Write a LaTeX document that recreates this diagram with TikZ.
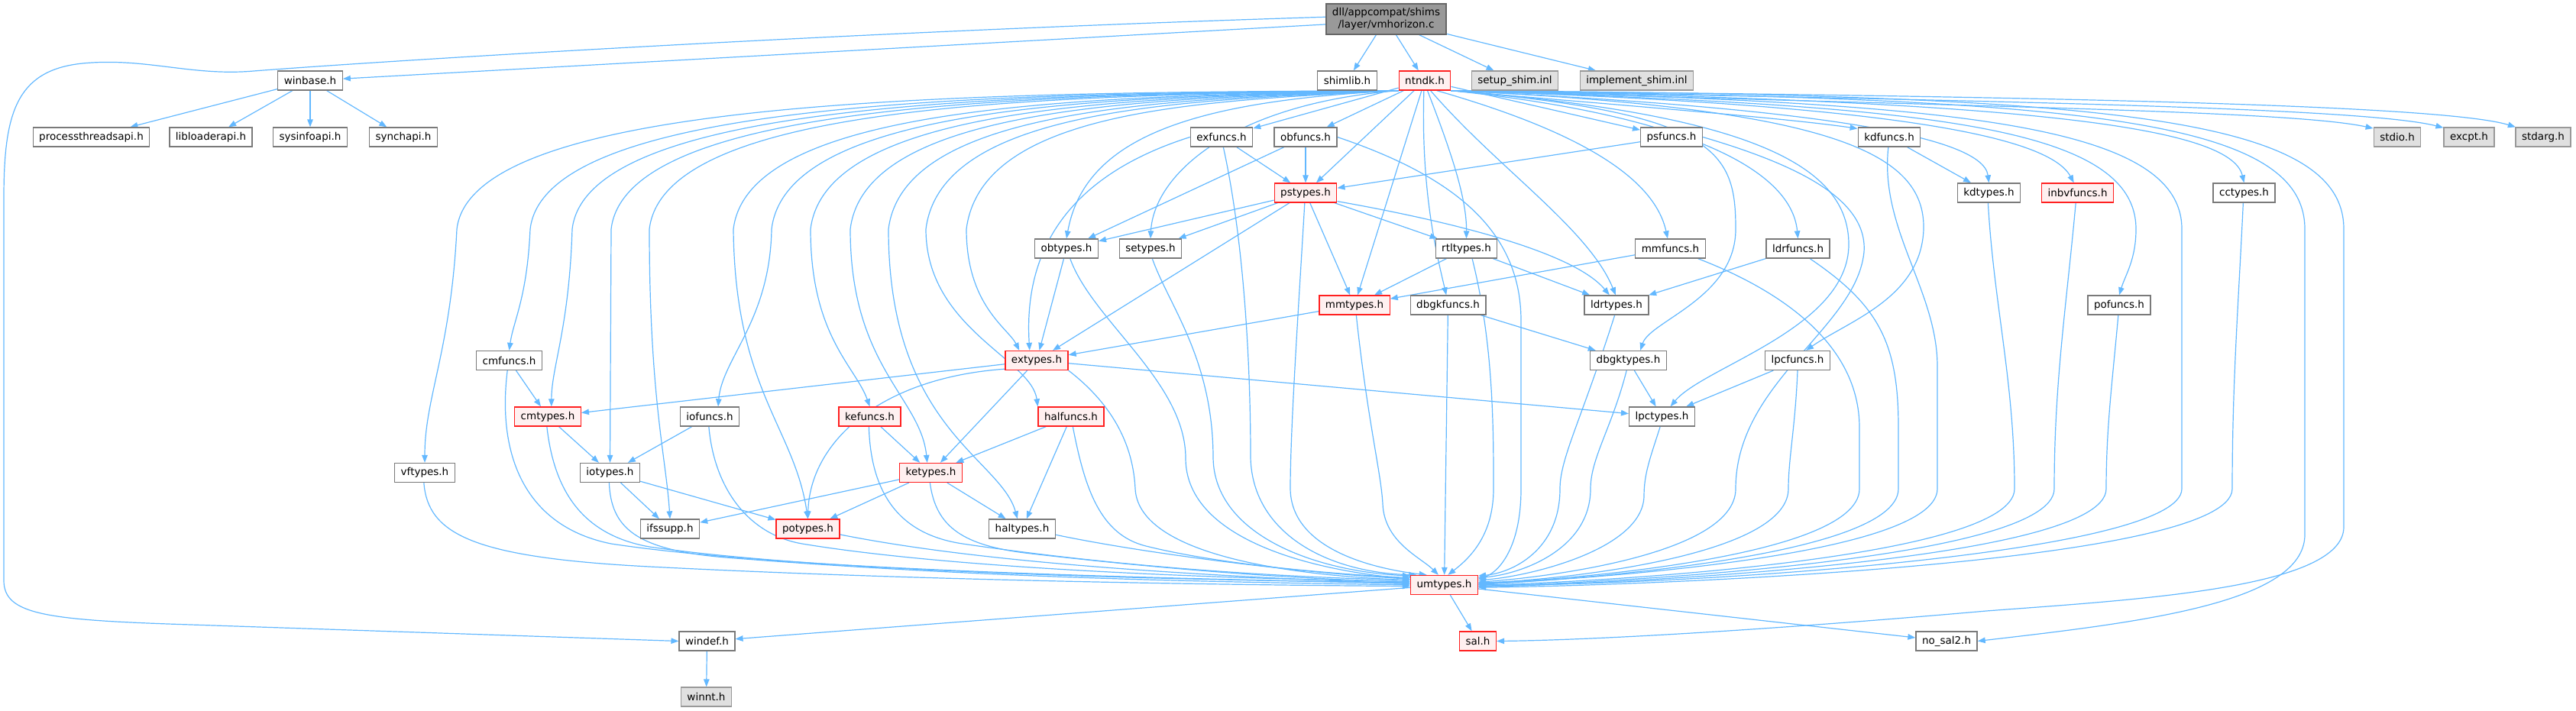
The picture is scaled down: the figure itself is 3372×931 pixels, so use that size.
\documentclass[tikz,border=0pt]{standalone}
\usepackage{fontspec}
\setmainfont{DejaVu Sans}
\usetikzlibrary{arrows.meta}
\definecolor{edgec}{HTML}{63B8FF}
\definecolor{ndb}{HTML}{7A7A7A}
\definecolor{redb}{HTML}{FF2020}
\definecolor{redf}{HTML}{FFF0F0}
\definecolor{grb}{HTML}{999999}
\definecolor{grf}{HTML}{E0E0E0}
\definecolor{mnb}{HTML}{666666}
\definecolor{mnf}{HTML}{999999}
\pgfdeclarelayer{edges}
\pgfsetlayers{edges,main}
\begin{document}
\begin{tikzpicture}[x=1pt,y=-1pt,
  box/.style={font=\fontsize{13.5}{16}\selectfont, inner xsep=8pt, inner ysep=0pt, minimum height=25pt, line width=1.3pt},
  nd/.style={box, draw=ndb, fill=white},
  rd/.style={box, draw=redb, fill=redf},
  gr/.style={box, draw=grb, fill=grf},
  mn/.style={box, draw=mnb, fill=mnf, align=center, minimum height=40pt, inner ysep=3pt},
  e/.style={draw=edgec, line width=1.2pt, -{Triangle[length=10pt,width=7.5pt]}}]
\useasboundingbox (0,0) rectangle (3372,931);
% row 0
\node[mn] (main) at (1814.5,25) {dll/appcompat/shims\\/layer/vmhorizon.c};
% row 1
\node[nd] (winbase) at (406,105.5) {winbase.h};
\node[nd] (shimlib) at (1763.5,105.5) {shimlib.h};
\node[rd] (ntndk) at (1865,105.5) {ntndk.h};
\node[gr] (setup) at (1983,105.5) {setup\_shim.inl};
\node[gr] (implement) at (2142.5,105.5) {implement\_shim.inl};
% row 2
\node[nd] (pta) at (119.5,179.5) {processthreadsapi.h};
\node[nd] (lla) at (276,179.5) {libloaderapi.h};
\node[nd] (sia) at (406,179.5) {sysinfoapi.h};
\node[nd] (sya) at (528,179.5) {synchapi.h};
\node[nd] (exfuncs) at (1599,179.5) {exfuncs.h};
\node[nd] (obfuncs) at (1709,179.5) {obfuncs.h};
\node[nd] (psfuncs) at (2188,179.5) {psfuncs.h};
\node[nd] (kdfuncs) at (2473,179.5) {kdfuncs.h};
\node[gr] (stdio) at (3138,179.5) {stdio.h};
\node[gr] (excpt) at (3232,179.5) {excpt.h};
\node[gr] (stdarg) at (3329,179.5) {stdarg.h};
% row 3
\node[rd] (pstypes) at (1709,252.5) {pstypes.h};
\node[nd] (kdtypes) at (2603.5,252.5) {kdtypes.h};
\node[rd] (inbvfuncs) at (2719.5,252.5) {inbvfuncs.h};
\node[nd] (cctypes) at (2937.5,252.5) {cctypes.h};
% row 4
\node[nd] (obtypes) at (1396,325.5) {obtypes.h};
\node[nd] (setypes) at (1506,325.5) {setypes.h};
\node[nd] (rtltypes) at (1919.5,325.5) {rtltypes.h};
\node[nd] (mmfuncs) at (2186.5,325.5) {mmfuncs.h};
\node[nd] (ldrfuncs) at (2353.5,325.5) {ldrfuncs.h};
% row 5
\node[rd] (mmtypes) at (1773,399.5) {mmtypes.h};
\node[nd] (dbgkfuncs) at (1895.5,399.5) {dbgkfuncs.h};
\node[nd] (ldrtypes) at (2116,399.5) {ldrtypes.h};
\node[nd] (pofuncs) at (2774,399.5) {pofuncs.h};
% row 6
\node[nd] (cmfuncs) at (666.5,472) {cmfuncs.h};
\node[rd] (extypes) at (1357,472) {extypes.h};
\node[nd] (dbgktypes) at (2131.5,472) {dbgktypes.h};
\node[nd] (lpcfuncs) at (2353,472) {lpcfuncs.h};
% row 7
\node[rd] (cmtypes) at (717,545.5) {cmtypes.h};
\node[nd] (iofuncs) at (929,545.5) {iofuncs.h};
\node[rd] (kefuncs) at (1138.5,545.5) {kefuncs.h};
\node[rd] (halfuncs) at (1402,545.5) {halfuncs.h};
\node[nd] (lpctypes) at (2175.5,545.5) {lpctypes.h};
% row 8
\node[nd] (vftypes) at (556,619) {vftypes.h};
\node[nd] (iotypes) at (798.5,619) {iotypes.h};
\node[rd] (ketypes) at (1218.5,619) {ketypes.h};
% row 9
\node[nd] (ifssupp) at (877,692.5) {ifssupp.h};
\node[rd] (potypes) at (1057.5,692.5) {potypes.h};
\node[nd] (haltypes) at (1338,692.5) {haltypes.h};
% row 10
\node[rd] (umtypes) at (1890.5,766) {umtypes.h};
% row 11
\node[nd] (windef) at (925.5,839.5) {windef.h};
\node[rd] (sal) at (1934.5,839.5) {sal.h};
\node[nd] (nosal2) at (2548,839.5) {no\_sal2.h};
% row 12
\node[gr] (winnt) at (924.5,912.5) {winnt.h};

\begin{pgfonlayer}{edges}
% main
\draw[e] (main) -- (shimlib);
\draw[e] (main) -- (ntndk);
\draw[e] (main) -- (setup);
\draw[e] (main) -- (implement);
\draw[e] (main.185) -- (winbase);
\draw[e] (main.178) .. controls (1100,42) and (500,80) .. (332,93) .. controls (250,100) and (190,75) .. (108,83) .. controls (20,92) and (5,150) .. (5,260) -- (5,760) .. controls (5,805) and (60,812) .. (250,818) -- (windef.west);
% winbase
\draw[e] (winbase) -- (pta);
\draw[e] (winbase) -- (lla);
\draw[e] (winbase) -- (sia);
\draw[e] (winbase) -- (sya);
% ntndk, left lanes
\draw[e] (ntndk.south west) .. controls (1276,121) and (618,126) .. (598,300) .. controls (590,460) and (556,520) .. (vftypes.north);
\draw[e] (ntndk.south west) .. controls (1319,122) and (714,127) .. (694,300) .. controls (690,390) and (672,420) .. (cmfuncs.north);
\draw[e] (ntndk.south west) .. controls (1344,123) and (769,129) .. (749,300) .. controls (745,430) and (722,480) .. (cmtypes.70);
\draw[e] (ntndk.south west) .. controls (1367,124) and (820,130) .. (800,300) -- (iotypes.north);
\draw[e] (ntndk.south west) .. controls (1389,125) and (870,131) .. (850,300) .. controls (850,520) and (872,600) .. (ifssupp.north);
\draw[e] (ntndk.south west) .. controls (1438,126) and (980,133) .. (960,300) .. controls (962,510) and (1040,560) .. (potypes.north);
\draw[e] (ntndk.south west) .. controls (1461,127) and (1030,134) .. (1010,300) .. controls (1008,420) and (945,470) .. (iofuncs.50);
\draw[e] (ntndk.south west) .. controls (1484,128) and (1081,136) .. (1061,300) .. controls (1061,440) and (1120,480) .. (kefuncs.north);
\draw[e] (ntndk.south west) .. controls (1507,129) and (1133,137) .. (1113,300) .. controls (1113,480) and (1205,520) .. (ketypes.110);
\draw[e] (ntndk.south west) .. controls (1530,130) and (1183,139) .. (1163,300) .. controls (1163,560) and (1310,600) .. (haltypes.115);
\draw[e] (ntndk.south west) .. controls (1552,131) and (1232,140) .. (1212,300) .. controls (1212,430) and (1350,470) .. (halfuncs.north west);
\draw[e] (ntndk.south west) .. controls (1576,132) and (1285,142) .. (1265,300) .. controls (1265,400) and (1320,430) .. (extypes.150);
\draw[e] (ntndk.south west) .. controls (1560,132) and (1420,180) .. (obtypes.north);
\draw[e] (ntndk.south west) .. controls (1610,136) and (1510,230) .. (setypes.north);
% ntndk, down
\draw[e] (ntndk) -- (exfuncs);
\draw[e] (ntndk) -- (obfuncs);
\draw[e] (ntndk) -- (pstypes);
\draw[e] (ntndk) -- (psfuncs);
\draw[e] (ntndk) -- (mmtypes);
\draw[e] (ntndk.-95) .. controls (1860,250) and (1880,330) .. (dbgkfuncs.100);
\draw[e] (ntndk.-75) .. controls (1900,200) and (1920,260) .. (rtltypes.north);
\draw[e] (ntndk.-60) .. controls (1960,220) and (2080,300) .. (ldrtypes.95);
\draw[e] (ntndk.-40) .. controls (2060,170) and (2165,230) .. (mmfuncs.105);
% ntndk, right
\draw[e] (ntndk.south east) .. controls (2150,140) and (2340,155) .. (kdfuncs.165);
\draw[e] (ntndk.south east) .. controls (2200,150) and (2345,220) .. (ldrfuncs.north);
\draw[e] (ntndk.south east) .. controls (2350,140) and (2595,175) .. (kdtypes.north);
\draw[e] (ntndk.south east) .. controls (2450,136) and (2680,175) .. (inbvfuncs.110);
\draw[e] (ntndk.south east) .. controls (2650,132) and (2920,165) .. (cctypes.north);
\draw[e] (ntndk.south east) .. controls (2600,140) and (3000,145) .. (stdio.160);
\draw[e] (ntndk.south east) .. controls (2650,132) and (3100,142) .. (excpt.160);
\draw[e] (ntndk.south east) .. controls (2700,126) and (3200,138) .. (stdarg.160);
\draw[e] (ntndk.south east) .. controls (2500,138) and (2796,160) .. (2796,300) .. controls (2796,340) and (2782,360) .. (pofuncs.north);
\draw[e] (ntndk.south east) .. controls (2250,148) and (2272,200) .. (2272,300) .. controls (2272,390) and (2160,420) .. (dbgktypes.40);
\draw[e] (ntndk.south east) .. controls (2300,150) and (2420,220) .. (2420,320) .. controls (2420,430) and (2230,480) .. (lpctypes.50);
\draw[e] (ntndk.south east) .. controls (2400,142) and (2520,200) .. (2518,300) .. controls (2515,390) and (2420,420) .. (lpcfuncs.50);
\draw[e] (ntndk.south east) .. controls (2550,134) and (2856,160) .. (2856,300) -- (2856,640) .. controls (2856,730) and (2150,768) .. (umtypes.east);
\draw[e] (ntndk.south east) .. controls (2700,128) and (3017,150) .. (3017,300) -- (3017,700) .. controls (3017,790) and (2800,815) .. (nosal2.east);
\draw[e] (ntndk.south east) .. controls (2750,124) and (3068,150) .. (3068,300) -- (3068,690) .. controls (3068,770) and (2800,785) .. (2600,800) .. controls (2350,822) and (2100,838) .. (sal.east);
% second level
\draw[e] (exfuncs) -- (pstypes);
\draw[e] (exfuncs.west) .. controls (1430,220) and (1338,300) .. (extypes.125);
\draw[e] (exfuncs.-80) .. controls (1625,300) and (1637,450) .. (1637,600) .. controls (1640,700) and (1740,750) .. (umtypes.160);
\draw[e] (obfuncs) -- (pstypes);
\draw[e] (obfuncs) -- (obtypes);
\draw[e] (obfuncs.east) .. controls (1900,230) and (1991,300) .. (1991,420) -- (1991,640) .. controls (1991,720) and (1960,750) .. (umtypes.10);
\draw[e] (psfuncs) -- (pstypes);
\draw[e] (psfuncs.east) .. controls (2350,215) and (2445,260) .. (2440,330) .. controls (2430,430) and (2272,500) .. (2272,640) .. controls (2272,730) and (2000,758) .. (umtypes.5);
\draw[e] (kdfuncs) -- (kdtypes);
\draw[e] (kdfuncs.-95) .. controls (2460,300) and (2536,380) .. (2536,480) -- (2536,640) .. controls (2536,735) and (2000,762) .. (umtypes.2);
\draw[e] (kdtypes.-95) .. controls (2610,400) and (2637,500) .. (2637,640) .. controls (2637,735) and (2050,764) .. (umtypes.0);
\draw[e] (inbvfuncs.-100) .. controls (2705,400) and (2689,500) .. (2689,640) .. controls (2689,738) and (2050,765) .. (umtypes.-2);
\draw[e] (pofuncs.-95) .. controls (2765,500) and (2757,560) .. (2757,640) .. controls (2757,740) and (2050,766) .. (umtypes.-3);
\draw[e] (cctypes.-95) .. controls (2930,400) and (2922,500) .. (2922,640) .. controls (2922,742) and (2100,768) .. (umtypes.-4);
% pstypes
\draw[e] (pstypes) -- (obtypes);
\draw[e] (pstypes) -- (setypes);
\draw[e] (pstypes) -- (rtltypes);
\draw[e] (pstypes) -- (mmtypes);
\draw[e] (pstypes) -- (extypes);
\draw[e] (pstypes.-15) .. controls (1900,290) and (2060,330) .. (ldrtypes.125);
\draw[e] (pstypes.-95) .. controls (1700,400) and (1689,560) .. (1689,640) .. controls (1690,720) and (1800,745) .. (umtypes.150);
% row 4
\draw[e] (obtypes) -- (extypes);
\draw[e] (obtypes.-70) .. controls (1430,420) and (1552,500) .. (1552,600) .. controls (1552,700) and (1700,745) .. (umtypes.170);
\draw[e] (setypes.-80) .. controls (1530,400) and (1588,470) .. (1588,600) .. controls (1590,700) and (1720,748) .. (umtypes.165);
\draw[e] (rtltypes) -- (mmtypes);
\draw[e] (rtltypes) -- (ldrtypes);
\draw[e] (rtltypes.-60) .. controls (1955,450) and (1955,560) .. (1955,640) .. controls (1955,700) and (1925,730) .. (umtypes.70);
\draw[e] (mmfuncs) -- (mmtypes);
\draw[e] (mmfuncs.-20) .. controls (2330,380) and (2434,450) .. (2434,560) -- (2434,640) .. controls (2434,735) and (2000,762) .. (umtypes.3);
\draw[e] (ldrfuncs) -- (ldrtypes);
\draw[e] (ldrfuncs.-40) .. controls (2460,400) and (2485,450) .. (2485,560) -- (2485,640) .. controls (2485,735) and (2000,762) .. (umtypes.1);
% row 5
\draw[e] (mmtypes) -- (extypes);
\draw[e] (mmtypes.-80) .. controls (1790,550) and (1808,620) .. (1810,660) .. controls (1812,710) and (1860,730) .. (umtypes.120);
\draw[e] (dbgkfuncs) -- (dbgktypes);
\draw[e] (dbgkfuncs) -- (umtypes);
\draw[e] (ldrtypes.-100) .. controls (2070,550) and (2042,600) .. (2042,640) .. controls (2042,720) and (1980,750) .. (umtypes.15);
% row 6
\draw[e] (extypes) -- (cmtypes);
\draw[e] (extypes) -- (ketypes);
\draw[e] (extypes.195) .. controls (1150,495) and (1060,580) .. (potypes.north);
\draw[e] (extypes) -- (lpctypes);
\draw[e] (extypes.south east) .. controls (1470,540) and (1484,600) .. (1486,640) .. controls (1490,720) and (1660,752) .. (umtypes.172);
\draw[e] (dbgktypes) -- (lpctypes);
\draw[e] (dbgktypes.-100) .. controls (2110,560) and (2082,600) .. (2082,640) .. controls (2082,720) and (1990,752) .. (umtypes.12);
\draw[e] (lpcfuncs) -- (lpctypes);
\draw[e] (lpcfuncs.-90) .. controls (2350,560) and (2341,600) .. (2341,640) .. controls (2341,735) and (2000,762) .. (umtypes.4);
\draw[e] (cmfuncs) -- (cmtypes);
\draw[e] (cmfuncs.-100) .. controls (650,600) and (690,690) .. (800,712) .. controls (1050,750) and (1600,758) .. (umtypes.178);
% row 7
\draw[e] (lpctypes.-100) .. controls (2160,600) and (2152,620) .. (2152,650) .. controls (2150,720) and (2000,755) .. (umtypes.8);
\draw[e] (cmtypes) -- (iotypes);
\draw[e] (cmtypes.-95) .. controls (725,640) and (760,700) .. (850,716) .. controls (1100,752) and (1600,760) .. (umtypes.176);
\draw[e] (iofuncs) -- (iotypes);
\draw[e] (iofuncs.-95) .. controls (935,640) and (980,700) .. (1050,712) .. controls (1250,745) and (1600,758) .. (umtypes.174);
\draw[e] (kefuncs) -- (ketypes);
\draw[e] (kefuncs.-95) .. controls (1140,650) and (1180,700) .. (1260,712) .. controls (1450,740) and (1650,755) .. (umtypes.172);
\draw[e] (halfuncs) -- (ketypes);
\draw[e] (halfuncs) -- (haltypes);
\draw[e] (halfuncs.-80) .. controls (1420,640) and (1440,700) .. (1500,715) .. controls (1600,740) and (1750,752) .. (umtypes.168);
% row 8
\draw[e] (vftypes.-95) .. controls (560,700) and (620,730) .. (850,742) .. controls (1200,760) and (1600,766) .. (umtypes.182);
\draw[e] (iotypes) -- (ifssupp);
\draw[e] (iotypes) -- (potypes);
\draw[e] (iotypes.-95) .. controls (800,690) and (830,720) .. (950,730) .. controls (1300,758) and (1600,762) .. (umtypes.180);
\draw[e] (ketypes) -- (ifssupp);
\draw[e] (ketypes) -- (potypes);
\draw[e] (ketypes) -- (haltypes);
\draw[e] (ketypes.-95) .. controls (1225,690) and (1260,715) .. (1350,725) .. controls (1550,748) and (1700,758) .. (umtypes.175);
% row 9
\draw[e] (potypes.-10) .. controls (1300,740) and (1600,755) .. (umtypes.178);
\draw[e] (haltypes.-10) .. controls (1500,725) and (1700,750) .. (umtypes.170);
% row 10
\draw[e] (umtypes) -- (windef);
\draw[e] (umtypes) -- (sal);
\draw[e] (umtypes) -- (nosal2);
\draw[e] (windef) -- (winnt);
\end{pgfonlayer}
\end{tikzpicture}
\end{document}
